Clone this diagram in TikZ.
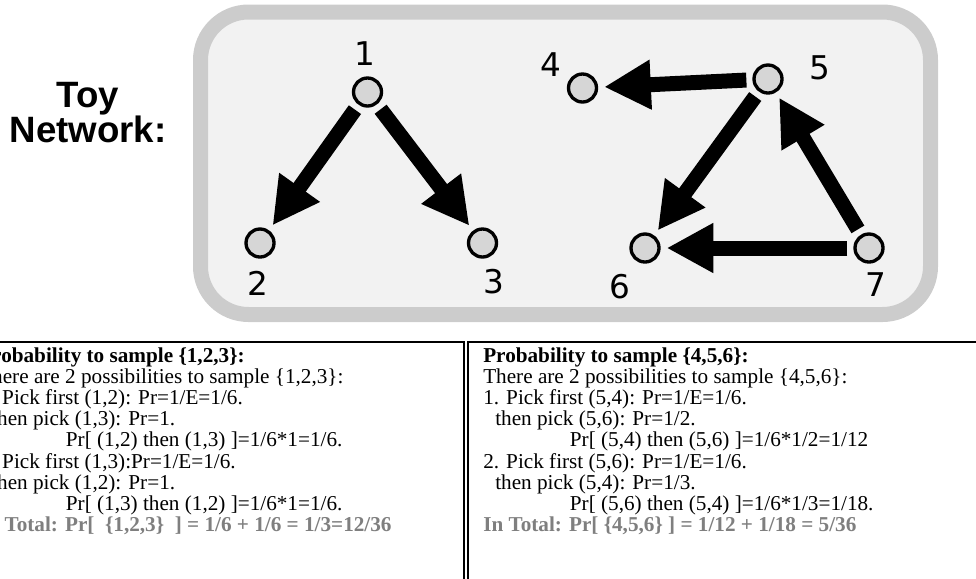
\documentclass[tikz,border=0pt]{standalone}
\usepackage{fontspec}
\usetikzlibrary{arrows.meta}
\newfontfamily\toyfont{Liberation Sans}
\newfontfamily\numfont{DejaVu Sans}
\newfontfamily\notefont{Liberation Serif}
\definecolor{toyPanel}{RGB}{242,242,242}
\definecolor{toyRim}{RGB}{204,204,204}
\definecolor{toyNode}{RGB}{214,214,214}
\definecolor{toyTotal}{RGB}{127,127,127}

\begin{document}
\begin{tikzpicture}[
  x=0.75pt, y=-0.75pt,
  vertex/.style={
    circle,
    draw,
    line width=2.5pt,
    fill=toyNode,
    minimum size=21pt,
    inner sep=0pt
  },
  numlabel/.style={font=\numfont\fontsize{24.5}{24.5}\selectfont,inner sep=0pt},
  arrow/.style={-{Triangle[length=35pt,width=35pt]},line width=11.25pt,
    shorten <=4.5pt,shorten >=4.5pt},
  note/.style={
    anchor=north west,
    align=left,
    inner sep=0pt,
    font=\notefont\fontsize{15.9}{15.83}\selectfont
  }
]
  \useasboundingbox (0,0) rectangle (976,579);

  \node[font=\toyfont\bfseries\fontsize{27.5}{26.25}\selectfont,align=center] (title)
    at (88,113) {Toy\\Network:};

  \draw[line width=11.25pt,draw=toyRim,fill=toyPanel,rounded corners=36pt]
    (200.5,12) rectangle (930.5,314.5);

  \node[vertex] (n1) at (367.5,92) {};
  \node[vertex] (n2) at (260,243) {};
  \node[vertex] (n3) at (482.5,243) {};
  \node[vertex] (n4) at (582.5,88) {};
  \node[vertex] (n5) at (768,79) {};
  \node[vertex] (n6) at (645,248) {};
  \node[vertex] (n7) at (869,248) {};

  \node[numlabel] (l1) at (365,53.5) {1};
  \node[numlabel] (l2) at (257.5,283) {2};
  \node[numlabel] (l3) at (494,282) {3};
  \node[numlabel] (l4) at (551,65) {4};
  \node[numlabel] (l5) at (820,68) {5};
  \node[numlabel] (l6) at (620,287) {6};
  \node[numlabel] (l7) at (876,284.5) {7};

  \draw[arrow] (n1) -- (n2);
  \draw[arrow] (n1) -- (n3);
  \draw[arrow] (n5) -- (n4);
  \draw[arrow] (n5) -- (n6);
  \draw[arrow] (n7) -- (n5);
  \draw[arrow] (n7) -- (n6);

  % the two worked examples below the network
  \draw[line width=1.9pt] (-10,342) rectangle (464,600);
  \draw[line width=1.9pt] (468,342) rectangle (990,600);

  \node[note] (sumA) at (-21,347.5)
    {\textbf{Probability to sample \{1,2,3\}:}\\
     There are 2 possibilities to sample \{1,2,3\}:\\
     1. Pick first (1,2): Pr=1/E=1/6.\\
     \hspace*{9pt}then pick (1,3): Pr=1.\\
     \hspace*{65pt}Pr[ (1,2) then (1,3) ]=1/6*1=1/6.\\
     2. Pick first (1,3):Pr=1/E=1/6.\\
     \hspace*{9pt}then pick (1,2): Pr=1.\\
     \hspace*{65pt}Pr[ (1,3) then (1,2) ]=1/6*1=1/6.\\
     {\color{toyTotal}\textbf{In Total: Pr[\ \ \{1,2,3\}\ \ ] = 1/6 + 1/6 = 1/3=12/36}}};

  \node[note] (sumB) at (483,347.5)
    {\textbf{Probability to sample \{4,5,6\}:}\\
     There are 2 possibilities to sample \{4,5,6\}:\\
     1. Pick first (5,4): Pr=1/E=1/6.\\
     \hspace*{9pt}then pick (5,6): Pr=1/2.\\
     \hspace*{65pt}Pr[ (5,4) then (5,6) ]=1/6*1/2=1/12\\
     2. Pick first (5,6): Pr=1/E=1/6.\\
     \hspace*{9pt}then pick (5,4): Pr=1/3.\\
     \hspace*{65pt}Pr[ (5,6) then (5,4) ]=1/6*1/3=1/18.\\
     {\color{toyTotal}\textbf{In Total: Pr[ \{4,5,6\} ] = 1/12 + 1/18 = 5/36}}};
\end{tikzpicture}
\end{document}
